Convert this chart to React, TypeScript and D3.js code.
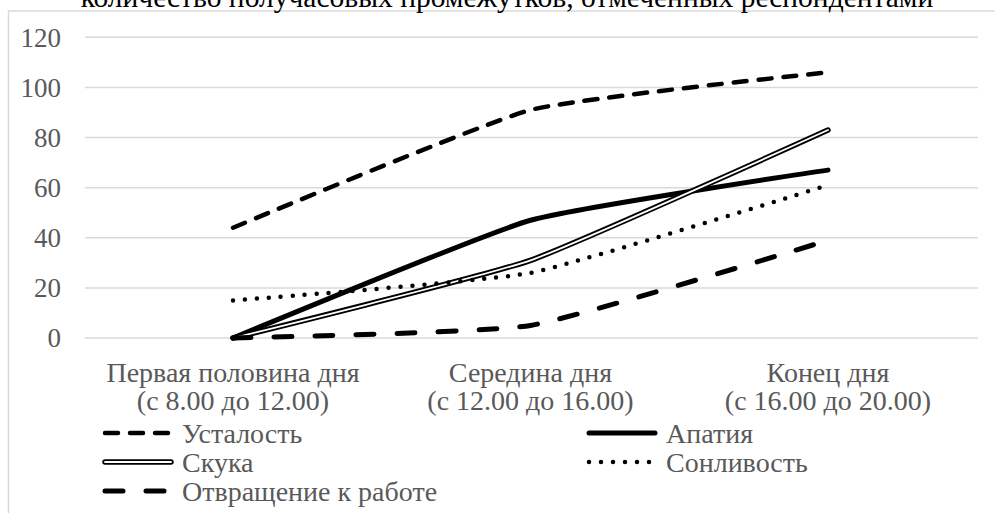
import React from "react";
import * as d3 from "d3";

const categoriesLine1 = ["Первая половина дня", "Середина дня", "Конец дня"];
const categoriesLine2 = ["(с 8.00 до 12.00)", "(с 12.00 до 16.00)", "(с 16.00 до 20.00)"];
const yTicks = [0, 20, 40, 60, 80, 100, 120];
const title = "количество получасовых промежутков, отмеченных респондентами";

const ustalost = [44, 91, 106];
const apatia = [0, 47, 67];
const skuka = [0, 31, 83];
const sonlivost = [15, 26, 61];
const otvraschenie = [0, 5, 39];

type Style = "dash" | "solid" | "double" | "dot" | "longdash";
const seriesNames = ["Усталость", "Апатия", "Скука", "Сонливость", "Отвращение к работе"];
const seriesValues = [ustalost, apatia, skuka, sonlivost, otvraschenie];
const seriesStyles: Style[] = ["dash", "solid", "double", "dot", "longdash"];

const W = 995;
const H = 513;
const FONT = "Liberation Serif, Tinos, Times New Roman, DejaVu Serif, serif";
const FS = 28;
const FS_TICK = 27;
const FS_TITLE = 29.5;
const GRAY = "#595959";

function strokeProps(s: Style) {
  switch (s) {
    case "dash":
      return { stroke: "#000", strokeWidth: 4.5, strokeDasharray: "13,12", strokeLinecap: "round" as const };
    case "solid":
      return { stroke: "#000", strokeWidth: 5, strokeLinecap: "round" as const };
    case "dot":
      return { stroke: "#000", strokeWidth: 4.5, strokeDasharray: "0,12", strokeLinecap: "round" as const };
    case "longdash":
      return { stroke: "#000", strokeWidth: 5, strokeDasharray: "18,23", strokeLinecap: "round" as const };
    default:
      return { stroke: "#000", strokeWidth: 5.5, strokeLinecap: "round" as const };
  }
}

function Series({ d, style }: { d: string; style: Style }) {
  if (style === "double") {
    return (
      <g>
        <path d={d} fill="none" stroke="#000" strokeWidth={5.5} strokeLinecap="round" strokeLinejoin="round" />
        <path d={d} fill="none" stroke="#fff" strokeWidth={1.8} strokeLinecap="round" strokeLinejoin="round" />
      </g>
    );
  }
  return <path d={d} fill="none" strokeLinejoin="round" {...strokeProps(style)} />;
}

export default function App() {
  const x = d3.scalePoint<number>().domain([0, 1, 2]).range([233, 828]);
  const y = d3.scaleLinear().domain([0, 120]).range([338, 37.3]);
  const line = d3
    .line<number>()
    .x((_, i) => x(i) as number)
    .y((v) => y(v))
    .curve(d3.curveCardinal.tension(0.55));

  const legendPos = [
    { x: 105, y: 443 },
    { x: 589, y: 443 },
    { x: 105, y: 472 },
    { x: 589, y: 472 },
    { x: 105, y: 501 },
  ];

  return (
    <svg
      width={W}
      height={H}
      style={{ position: "absolute", left: 0, top: 0, background: "#fff", fontFamily: FONT }}
    >
      <rect x={8.5} y={11} width={1100} height={600} fill="#fff" stroke="#d9d9d9" strokeWidth={1.5} />
      <text x={507} y={7} textAnchor="middle" fontSize={FS_TITLE} fill="#000" style={{ fontFamily: FONT }}>
        {title}
      </text>
      {yTicks.map((t) => (
        <g key={t}>
          <line x1={85} x2={978} y1={y(t)} y2={y(t)} stroke="#d9d9d9" strokeWidth={1.5} />
          <text x={61} y={y(t)} dy="0.35em" textAnchor="end" fontSize={FS_TICK} fill={GRAY} style={{ fontFamily: FONT }}>
            {t}
          </text>
        </g>
      ))}
      {categoriesLine1.map((c, i) => (
        <text key={c} x={x(i)} y={382} textAnchor="middle" fontSize={FS} fill={GRAY} style={{ fontFamily: FONT }}>
          <tspan x={x(i)} y={382}>{c}</tspan>
          <tspan x={x(i)} y={410}>{categoriesLine2[i]}</tspan>
        </text>
      ))}
      {seriesValues.map((vals, i) => (
        <Series key={seriesNames[i]} d={line(vals) as string} style={seriesStyles[i]} />
      ))}
      {seriesNames.map((n, i) => {
        const p = legendPos[i];
        const ly = p.y - 10;
        return (
          <g key={n}>
            <Series d={`M${p.x},${ly}L${p.x + 66},${ly}`} style={seriesStyles[i]} />
            <text x={p.x + 77} y={p.y} fontSize={FS} fill={GRAY} style={{ fontFamily: FONT }}>
              {n}
            </text>
          </g>
        );
      })}
    </svg>
  );
}
